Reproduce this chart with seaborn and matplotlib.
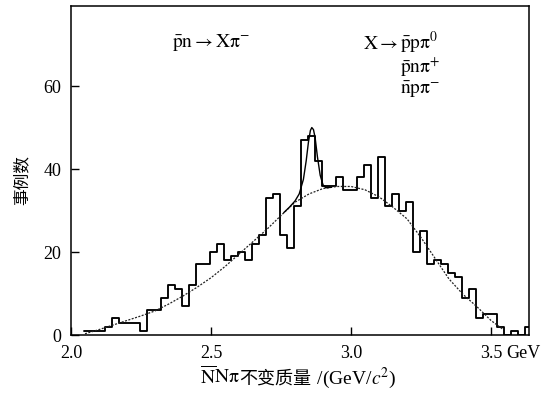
import numpy as np
import pandas as pd
import matplotlib
matplotlib.use("Agg")
import matplotlib.pyplot as plt
import seaborn as sns
from matplotlib.offsetbox import TextArea, HPacker, AnchoredOffsetbox

# ---------------- data ----------------
mass_first_edge = 2.045      # GeV, lower edge of first bin
mass_bin_width = 0.025       # GeV
event_counts = [1, 1, 1, 2, 4, 3, 3, 3, 1, 6,
                6, 9, 12, 11, 7, 12, 17, 17, 20, 22,
                18, 19, 20, 18, 22, 24, 33, 34, 24, 21,
                31, 47, 48, 42, 36, 36, 38, 35, 35, 38,
                41, 33, 43, 31, 34, 30, 32, 20, 25, 17,
                18, 17, 15, 14, 9, 11, 4, 5, 5, 2,
                0, 1, 0, 2]

bg_mass = [2.05, 2.10, 2.15, 2.20, 2.25, 2.30, 2.35, 2.40, 2.45, 2.50,
           2.55, 2.60, 2.65, 2.70, 2.75, 2.80, 2.85, 2.90, 2.95, 3.00,
           3.05, 3.10, 3.15, 3.20, 3.25, 3.30, 3.35, 3.40, 3.45, 3.50, 3.54]
bg_count = [0.3, 1.3, 2.4, 3.5, 4.6, 5.8, 7.5, 9.4, 11.5, 13.8,
            16.5, 19.5, 22.5, 25.5, 28.8, 32.0, 34.0, 35.3, 35.8, 35.8,
            35.0, 33.3, 30.8, 28.0, 23.5, 18.5, 13.5, 9.8, 6.8, 3.5, 1.5]

fit_mass = [2.76, 2.78, 2.80, 2.815, 2.83, 2.84, 2.848, 2.855, 2.86, 2.866,
            2.872, 2.88, 2.89, 2.90, 2.91, 2.93]
fit_count = [29.5, 30.8, 32.3, 34.0, 37.5, 42.0, 46.5, 49.3, 50.0, 49.5,
             47.5, 43.0, 38.5, 36.2, 35.5, 35.6]

x_ticks = [2.0, 2.5, 3.0, 3.5]
x_tick_labels = ["2.0", "2.5", "3.0", "3.5"]
y_ticks = [0, 20, 40, 60]
y_tick_labels = ["0", "20", "40", "60"]

# ---------------- style ----------------
sns.set_theme(style="white")
plt.rcParams["font.family"] = ["Liberation Serif", "Noto Sans CJK SC"]
plt.rcParams["mathtext.fontset"] = "stix"

edges = [mass_first_edge + mass_bin_width * i for i in range(len(event_counts) + 1)]
centers = [(edges[i] + edges[i + 1]) / 2 for i in range(len(event_counts))]
df = pd.DataFrame({"mass": centers, "count": event_counts})

fig = plt.figure(figsize=(5.53, 3.93), dpi=100)
ax = fig.add_axes([71 / 553, 58 / 393, 458 / 553, 329 / 393])

sns.histplot(data=df, x="mass", weights="count", bins=edges, element="step",
             fill=False, color="black", linewidth=1.35, ax=ax)
sns.lineplot(x=bg_mass, y=bg_count, ax=ax, color="#222222", linewidth=0.9,
             linestyle=(0, (1.6, 1.2)), estimator=None, sort=False)
sns.lineplot(x=fit_mass, y=fit_count, ax=ax, color="black", linewidth=1.0,
             estimator=None, sort=False)

ax.set_xlim(2.0, 2.0 + 458 / 280)
ax.set_ylim(0, 79.3)
ax.set_xticks(x_ticks)
ax.set_xticklabels(x_tick_labels)
ax.set_yticks(y_ticks)
ax.set_yticklabels(y_tick_labels)
ax.tick_params(axis="both", which="major", direction="in", length=6, width=1,
               color="black", labelsize=13, labelcolor="black",
               bottom=True, left=True, pad=7)
for s in ax.spines.values():
    s.set_visible(True)
    s.set_color("black")
    s.set_linewidth(1.1)
ax.set_xlabel("")
ax.set_ylabel("")

# "GeV" after 3.5
ax.annotate("GeV", xy=(3.556, 0), xycoords=("data", "axes fraction"),
            xytext=(0, -7), textcoords="offset points", ha="left", va="top",
            fontsize=13, color="black")

# y label
ax.text(-0.107, 0.47, "事例数", transform=ax.transAxes, rotation=90,
        ha="center", va="center", fontsize=12, family=["Noto Sans CJK SC"],
        color="black")

# annotations
PI = r"\mathrm{\pi}"
ax.text(0.221, 0.888, r"$\bar{\mathrm{p}}\mathrm{n}\rightarrow\mathrm{X}" + PI + r"^{-}$",
        transform=ax.transAxes, ha="left", va="center", fontsize=14, color="black")
ax.text(0.638, 0.884, r"$\mathrm{X}\rightarrow$",
        transform=ax.transAxes, ha="left", va="center", fontsize=14, color="black")
decay_lines = "\n".join([
    r"$\bar{\mathrm{p}}\mathrm{p}" + PI + r"^{0}$",
    r"$\bar{\mathrm{p}}\mathrm{n}" + PI + r"^{+}$",
    r"$\bar{\mathrm{n}}\mathrm{p}" + PI + r"^{-}$",
])
ax.text(0.718, 0.821, decay_lines, transform=ax.transAxes, ha="left",
        va="center", fontsize=14, color="black", linespacing=1.0)

# x label built from pieces (mathtext + CJK)
parts = [
    TextArea(r"$\overline{\mathrm{N}}\mathrm{N}" + PI + r"$", textprops=dict(fontsize=14, color="black")),
    TextArea("不变质量", textprops=dict(fontsize=13, color="black", family=["Noto Sans CJK SC"])),
    TextArea(r" /(GeV/$c^{2}$)", textprops=dict(fontsize=14, color="black")),
]
pack = HPacker(children=parts, align="baseline", pad=0, sep=0)
box = AnchoredOffsetbox(loc="center", child=pack, frameon=False, pad=0,
                        bbox_to_anchor=(298 / 553, 15 / 393),
                        bbox_transform=fig.transFigure, borderpad=0)
fig.add_artist(box)

fig.savefig("out.png", dpi=100, facecolor="white")
